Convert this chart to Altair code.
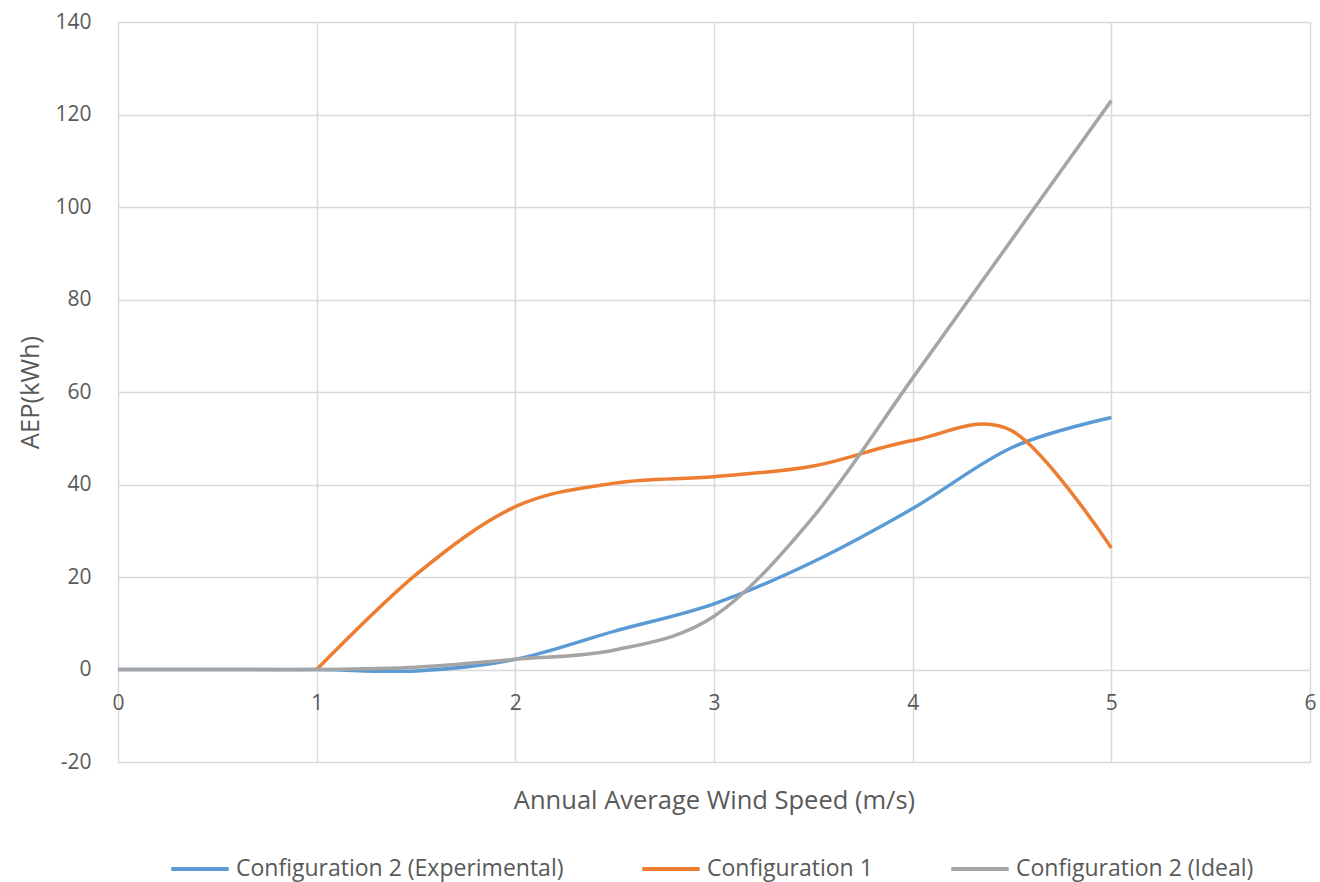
import altair as alt
import pandas as pd

speed = [0, 0.5, 1, 1.5, 2, 2.5, 3, 3.5, 4, 4.5, 5]
speed_c1 = [1, 1.5, 2, 2.5, 3, 3.5, 4, 4.5, 5]

exp_vals = [0, 0, 0, -0.3, 2.2, 8.3, 14.2, 23.3, 34.8, 48.0, 54.5]
c1_vals = [0, 20.5, 35.2, 40.3, 41.7, 44.0, 49.5, 51.6, 26.3]
ideal_vals = [0, 0, 0, 0.5, 2.2, 4.2, 11.5, 33.0, 63.0, 93.0, 123.0]

series = ["Configuration 2 (Experimental)", "Configuration 1", "Configuration 2 (Ideal)"]
colors = ["#5B9BD5", "#ED7D31", "#A5A5A5"]

rows = []
for x, y in zip(speed, exp_vals):
    rows.append({"speed": x, "aep": y, "series": series[0]})
for x, y in zip(speed_c1, c1_vals):
    rows.append({"speed": x, "aep": y, "series": series[1]})
for x, y in zip(speed, ideal_vals):
    rows.append({"speed": x, "aep": y, "series": series[2]})
df = pd.DataFrame(rows)

FONT = "Open Sans"
TXT = "#595959"
GRID = "#D9D9D9"

chart = alt.Chart(df).mark_line(
    interpolate="cardinal", tension=0, strokeWidth=3.5
).encode(
    x=alt.X("speed:Q",
            scale=alt.Scale(domain=[0, 6], nice=False),
            axis=alt.Axis(values=[0, 1, 2, 3, 4, 5, 6], format="d", offset=-92.5,
                          domain=False, ticks=False, labelPadding=23, labelFlush=False,
                          labelFontSize=21, labelColor=TXT, labelFont=FONT,
                          grid=True, gridColor=GRID, gridWidth=1.5,
                          title="Annual Average Wind Speed (m/s)",
                          titleFont=FONT, titleFontSize=25.5, titleColor=TXT,
                          titleFontWeight="normal", titleY=131, titleBaseline="middle")),
    y=alt.Y("aep:Q",
            scale=alt.Scale(domain=[-20, 140], nice=False),
            axis=alt.Axis(values=list(range(-20, 141, 20)), domain=False, ticks=False,
                          labelExpr="datum.value + ''",
                          labelPadding=27, labelFontSize=21, labelColor=TXT, labelFont=FONT,
                          grid=True, gridColor=GRID, gridWidth=1.5,
                          title="AEP(kWh)", titleFont=FONT, titleFontSize=25.5,
                          titleColor=TXT, titleFontWeight="normal", titlePadding=11)),
    color=alt.Color("series:N",
                    scale=alt.Scale(domain=series, range=colors),
                    legend=alt.Legend(orient="none", legendX=51, legendY=816,
                                      direction="horizontal", title=None,
                                      symbolType="stroke", symbolSize=3300,
                                      symbolStrokeWidth=4, labelFont=FONT,
                                      labelFontSize=23, labelColor=TXT,
                                      labelOffset=5, columnPadding=70,
                                      labelLimit=500)),
    detail="series:N",
    order="speed:Q",
).properties(
    width=1192, height=740,
    autosize=alt.AutoSizeParams(type="none"),
    padding={"left": 118, "top": 22, "right": 10, "bottom": 120},
).configure_view(
    stroke=GRID, strokeWidth=1.5
).configure(background="white")

chart.save("out.html", embed_options={"renderer": "svg", "actions": False})
